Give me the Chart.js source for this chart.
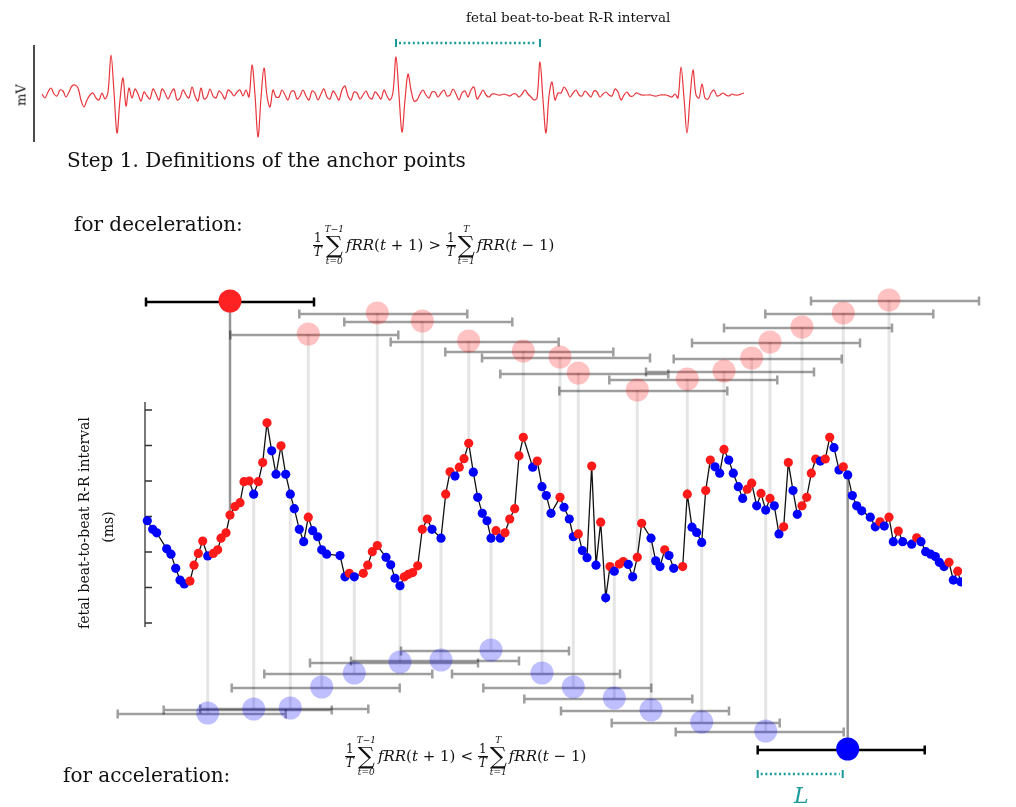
<!DOCTYPE html>
<html>
<head>
<meta charset="utf-8">
<script src="https://cdn.jsdelivr.net/npm/chart.js@4"></script>
<style>
  body { margin: 0; background: #fff; }
  #page { position: relative; width: 1016px; height: 807px; overflow: hidden; font-family: 'DejaVu Serif', serif; color: #111; }
  canvas { position: absolute; left: 0; top: 0; }
  .t { position: absolute; white-space: nowrap; }
  .rot { position: absolute; white-space: nowrap; transform: translate(-50%, -50%) rotate(-90deg); }
  .fm { position: absolute; display: flex; align-items: center; font-size: 15px; white-space: nowrap; }
  .fr { display: inline-flex; flex-direction: column; align-items: center; font-size: 12px; line-height: 13px; margin-right: 1px; }
  .fr span:first-child { border-bottom: 1px solid #111; padding: 0 1px; }
  .sm { display: inline-flex; flex-direction: column; align-items: center; margin: 0 2px 0 1px; }
  .sm .li { font-size: 9px; line-height: 10px; font-style: italic; }
  .sm .sg { font-size: 24px; line-height: 22px; }
  .op { margin: 0 5px; }
</style>
</head>
<body>
<div id="page">
  <canvas id="ecg" width="1016" height="807"></canvas>
  <canvas id="rr" width="1016" height="807"></canvas>

  <div class="t" style="left:466px;top:9px;font-size:13.5px;line-height:16px">fetal beat-to-beat R-R interval</div>
  <div class="rot" style="left:21px;top:95px;font-size:13px">mV</div>
  <div class="t" style="left:67px;top:149px;font-size:20px;line-height:22px">Step 1. Definitions of the anchor points</div>
  <div class="t" style="left:74px;top:213px;font-size:20px;line-height:22px">for deceleration:</div>
  <div class="t" style="left:63px;top:764px;font-size:20px;line-height:22px">for acceleration:</div>
  <div class="rot" style="left:84px;top:523px;font-size:14px">fetal beat-to-beat R-R interval</div>
  <div class="rot" style="left:108px;top:527px;font-size:14px">(ms)</div>
  <div class="t" style="left:794px;top:784px;font-size:22px;line-height:24px;font-style:italic;color:#1a9b9b">L</div>

  <div class="fm" style="left:313px;top:224px">
    <span class="fr"><span>1</span><i>T</i></span>
    <span class="sm"><span class="li">T−1</span><span class="sg">∑</span><span class="li">t=0</span></span>
    <span><i>fRR</i>(<i>t</i> + 1)</span><span class="op">&gt;</span>
    <span class="fr"><span>1</span><i>T</i></span>
    <span class="sm"><span class="li">T</span><span class="sg">∑</span><span class="li">t=1</span></span>
    <span><i>fRR</i>(<i>t</i> − 1)</span>
  </div>
  <div class="fm" style="left:345px;top:735px">
    <span class="fr"><span>1</span><i>T</i></span>
    <span class="sm"><span class="li">T−1</span><span class="sg">∑</span><span class="li">t=0</span></span>
    <span><i>fRR</i>(<i>t</i> + 1)</span><span class="op">&lt;</span>
    <span class="fr"><span>1</span><i>T</i></span>
    <span class="sm"><span class="li">T</span><span class="sg">∑</span><span class="li">t=1</span></span>
    <span><i>fRR</i>(<i>t</i> − 1)</span>
  </div>
</div>

<script>
// abdominal fetal ECG trace, µV, one sample per step
var ecgUv = [
  25,-75,75,175,25,-25,125,100,-50,75,225,250,175,-125,-300,-125,0,50,-75,-125,50,-100,75,
  1000,75,-950,-125,425,-275,175,
  -75,150,25,-150,75,-25,-100,150,25,-125,150,50,-100,50,150,-125,-75,125,0,-75,
  200,-25,-150,175,-100,-50,150,-25,-75,100,25,-100,125,75,-25,75,125,-25,125,-50,
  750,0,-1050,-75,675,-25,-300,125,-50,
  -50,125,0,-125,75,100,-100,-25,125,-25,-125,100,50,-125,25,150,-50,-100,100,0,
  -125,125,225,-25,-125,75,50,-100,0,100,-50,-100,75,0,-100,125,-25,
  -125,75,950,0,-925,-125,525,125,-150,
  -125,25,125,0,-75,75,75,-50,50,125,-25,0,150,25,-125,50,100,-50,125,200,
  -100,0,125,0,-50,25,25,0,0,25,0,-25,25,25,-50,25,125,25,-50,
  -125,-75,825,-125,-950,-25,325,-125,50,
  50,200,100,-50,50,125,0,-25,100,25,-50,100,75,-50,25,75,0,-25,150,75,
  -125,0,75,-25,-25,50,25,0,0,0,0,-25,-25,0,0,0,-25,-50,25,
  -75,700,-75,-950,-75,625,0,-75,275,-75,
  -100,50,125,-25,0,50,0,-25,25,0,0,25,50
];
var rrMarkSamples = [118, 166];

// fetal RR series: beat time (s) and RR interval (ms)
var rrTime = [
  0.23,0.77,1.17,2.17,2.6,3.07,3.5,3.93,4.5,4.9,
  5.33,5.77,6.27,6.83,7.27,7.6,8.1,8.5,9.0,9.5,
  9.9,10.43,10.87,11.33,11.77,12.2,12.67,13.1,13.6,14.07,
  14.53,14.93,15.43,15.87,16.33,16.77,17.27,17.67,18.17,19.5,
  20.0,20.43,20.93,21.83,22.27,22.73,23.23,24.1,24.57,25.0,
  25.5,25.93,26.33,26.77,27.27,27.73,28.23,28.7,29.6,30.07,
  30.5,31.0,31.43,31.9,32.37,32.83,33.27,33.73,34.2,34.6,
  35.1,35.53,36.0,36.47,36.97,37.4,37.83,38.77,39.23,39.7,
  40.13,40.6,41.5,41.9,42.43,42.83,43.33,43.73,44.2,44.67,
  45.1,45.57,46.07,46.5,46.93,47.43,47.83,48.33,48.77,49.23,
  49.67,50.6,51.07,51.5,51.97,52.4,52.87,53.77,54.23,54.7,
  55.17,55.67,56.07,56.53,57.0,57.47,57.9,58.37,58.83,59.33,
  59.77,60.23,60.67,61.17,61.6,62.07,62.5,62.93,63.4,63.87,
  64.33,64.8,65.23,65.7,66.17,66.63,67.07,67.53,68.03,68.47,
  68.9,69.4,69.83,70.27,70.73,71.17,71.67,72.53,73.03,73.5,
  73.93,74.4,74.83,75.33,75.77,76.67,77.17,77.6,78.07,78.57,
  79.03,79.43,79.9,80.4,80.83,81.27,81.57
];
var rrMs = [
  408.8,406.4,405.4,400.9,399.4,395.4,392.1,391.0,391.8,396.3,
  399.6,403.1,398.9,399.6,400.6,403.9,405.4,410.4,412.8,413.9,
  419.8,420.0,416.3,419.8,425.2,436.4,428.5,421.9,429.9,421.9,
  416.3,412.2,406.4,402.9,409.8,406.0,404.3,400.6,399.4,399.0,
  393.0,394.0,393.0,394.0,396.3,400.1,401.8,398.5,396.4,392.6,
  390.5,393.0,393.7,394.2,396.1,406.4,409.3,406.4,403.9,416.3,
  422.6,421.4,423.9,426.3,430.6,422.5,415.4,410.9,408.8,403.9,
  406.0,403.9,405.4,409.3,412.2,427.1,432.3,423.9,425.6,418.4,
  415.9,410.9,415.4,412.6,409.3,404.3,405.1,400.4,398.4,424.2,
  396.3,408.4,387.1,395.9,394.6,396.6,397.3,396.5,393.0,398.5,
  408.1,403.9,397.5,395.9,400.6,399.0,395.4,395.9,416.3,407.0,
  405.5,402.7,417.3,425.9,424.0,422.2,428.9,425.9,422.2,418.4,
  415.1,417.7,419.4,413.0,416.5,411.8,415.1,413.0,405.1,407.1,
  425.2,417.3,410.6,413.0,415.4,422.2,426.2,425.6,426.2,432.3,
  429.4,423.1,424.0,421.7,415.9,413.0,411.6,409.8,407.1,408.5,
  407.3,409.8,402.9,405.9,402.9,402.2,404.0,402.9,400.1,399.4,
  398.7,397.1,395.9,397.1,392.1,394.6,391.6
];
var rrTicks = [380, 390, 400, 410, 420, 430, 440];

// anchor beats (index into the series) and the row they are stacked on
var decelIdx  = [34, 46, 55, 64, 76, 82, 86, 99, 108, 116, 122, 126, 133, 142, 151];
var decelLane = [3.4, 1.3, 2.1, 4.1, 5.1, 5.7, 7.3, 9.0, 7.9, 7.1, 5.8, 4.2, 2.7, 1.3, 0.0];
var accelIdx  = [12, 22, 30, 37, 42, 50, 58, 69, 79, 85, 94, 101, 111, 125];
var accelLane = [41.3, 40.9, 40.8, 38.7, 37.3, 36.2, 36.0, 35.0, 37.3, 38.7, 39.8, 41.0, 42.2, 43.1];
var keyDecelIdx = 17, keyDecelLane = 0.1;
var keyAccelIdx = 143, keyAccelLane = 44.9;
// window length before / after the anchor (s)
var decelWindow = [7.8, 9.0];
var accelWindow = [9.0, 7.8];
var keyDecelWindow = [8.4, 8.4];
var keyAccelWindow = [9.0, 7.7];

var TEAL = '#1a9b9b';

function bracket(ctx, x0, x1, y) {
  ctx.strokeStyle = TEAL;
  ctx.lineWidth = 2.5;
  ctx.setLineDash([2, 2.6]);
  ctx.beginPath(); ctx.moveTo(x0 + 3, y); ctx.lineTo(x1 - 3, y); ctx.stroke();
  ctx.setLineDash([]);
  ctx.lineWidth = 2;
  ctx.beginPath();
  ctx.moveTo(x0, y - 4); ctx.lineTo(x0, y + 4);
  ctx.moveTo(x1, y - 4); ctx.lineTo(x1, y + 4);
  ctx.stroke();
}

// ---------- ECG strip ----------
var ecgPlugin = {
  id: 'ecgDeco',
  afterDraw: function(chart) {
    var ctx = chart.ctx, a = chart.chartArea, xs = chart.scales.x;
    ctx.save();
    ctx.strokeStyle = '#111';
    ctx.lineWidth = 1.5;
    ctx.beginPath();
    ctx.moveTo(a.left - 8, a.top - 2);
    ctx.lineTo(a.left - 8, a.bottom - 1);
    ctx.stroke();
    bracket(ctx, xs.getPixelForValue(rrMarkSamples[0]), xs.getPixelForValue(rrMarkSamples[1]), a.top - 4);
    ctx.restore();
  }
};

new Chart(document.getElementById('ecg'), {
  type: 'line',
  data: {
    labels: ecgUv.map(function(v, i) { return i; }),
    datasets: [{
      data: ecgUv,
      borderColor: '#e8363c',
      borderWidth: 1.2,
      pointRadius: 0,
      tension: 0.35
    }]
  },
  options: {
    responsive: false,
    animation: false,
    events: [],
    layout: { autoPadding: false, padding: { left: 42, right: 272, top: 47, bottom: 664 } },
    scales: {
      x: { display: false, offset: false },
      y: { display: false, min: -1200, max: 1200 }
    },
    plugins: { legend: { display: false }, tooltip: { enabled: false } }
  },
  plugins: [ecgPlugin]
});

// ---------- RR series with anchors ----------
var rrColors = rrMs.map(function(v, i) {
  return i > 0 && v > rrMs[i - 1] ? '#ff1a1a' : '#0000ff';
});

function hbar(ctx, x0, x1, y, color, width) {
  ctx.strokeStyle = color;
  ctx.lineWidth = width;
  ctx.beginPath();
  ctx.moveTo(x0, y); ctx.lineTo(x1, y);
  ctx.moveTo(x0, y - 4.5); ctx.lineTo(x0, y + 4.5);
  ctx.moveTo(x1, y - 4.5); ctx.lineTo(x1, y + 4.5);
  ctx.stroke();
}

var anchorPlugin = {
  id: 'anchors',
  beforeDatasetsDraw: function(chart) {
    var ctx = chart.ctx, xs = chart.scales.x, ys = chart.scales.y, ls = chart.scales.lane;
    ctx.save();
    function connector(k, lane, color, w) {
      var px = xs.getPixelForValue(rrTime[k]);
      ctx.strokeStyle = color;
      ctx.lineWidth = w;
      ctx.beginPath();
      ctx.moveTo(px, ls.getPixelForValue(lane));
      ctx.lineTo(px, ys.getPixelForValue(rrMs[k]));
      ctx.stroke();
    }
    decelIdx.forEach(function(k, i) { connector(k, decelLane[i], 'rgba(0,0,0,0.1)', 3); });
    accelIdx.forEach(function(k, i) { connector(k, accelLane[i], 'rgba(0,0,0,0.1)', 3); });
    connector(keyDecelIdx, keyDecelLane, 'rgba(0,0,0,0.42)', 2.5);
    connector(keyAccelIdx, keyAccelLane, 'rgba(0,0,0,0.42)', 2.5);

    function windowBar(k, lane, win, color, w) {
      var t = rrTime[k];
      hbar(ctx, xs.getPixelForValue(t - win[0]), xs.getPixelForValue(t + win[1]),
           ls.getPixelForValue(lane) + 1, color, w);
    }
    decelIdx.forEach(function(k, i) { windowBar(k, decelLane[i], decelWindow, 'rgba(0,0,0,0.38)', 2.5); });
    accelIdx.forEach(function(k, i) { windowBar(k, accelLane[i], accelWindow, 'rgba(0,0,0,0.38)', 2.5); });
    windowBar(keyDecelIdx, keyDecelLane, keyDecelWindow, '#000', 2.5);
    windowBar(keyAccelIdx, keyAccelLane, keyAccelWindow, '#000', 2.5);

    // L bracket under the key acceleration anchor
    var t = rrTime[keyAccelIdx];
    bracket(ctx, xs.getPixelForValue(t - keyAccelWindow[0]), xs.getPixelForValue(t - 0.5),
            ls.getPixelForValue(keyAccelLane + 2.5));

    // y axis with inward ticks
    var ax = xs.getPixelForValue(0);
    ctx.strokeStyle = '#333';
    ctx.lineWidth = 1.3;
    ctx.beginPath();
    ctx.moveTo(ax, ys.getPixelForValue(rrTicks[rrTicks.length - 1]) - 8);
    ctx.lineTo(ax, ys.getPixelForValue(rrTicks[0]) + 4);
    rrTicks.forEach(function(v) {
      var py = ys.getPixelForValue(v);
      ctx.moveTo(ax, py); ctx.lineTo(ax + 7, py);
    });
    ctx.stroke();
    ctx.restore();
  }
};

function anchorPoints(idx, lanes) {
  return idx.map(function(k, i) { return { x: rrTime[k], y: lanes[i] }; });
}

// the chart area is the whole page: 10 px per second, 3.55 px per ms, 10 px per lane
new Chart(document.getElementById('rr'), {
  type: 'line',
  data: {
    datasets: [{
      label: 'fRR',
      data: rrTime.map(function(t, i) { return { x: t, y: rrMs[i] }; }),
      borderColor: '#111',
      borderWidth: 1.3,
      pointRadius: 4.6,
      pointBorderWidth: 0,
      pointBackgroundColor: rrColors,
      clip: { left: false, top: false, right: -54, bottom: false },
      order: 0
    }, {
      type: 'scatter',
      label: 'deceleration anchors',
      data: anchorPoints(decelIdx, decelLane),
      yAxisID: 'lane',
      pointRadius: 11.5,
      pointBorderWidth: 0,
      backgroundColor: 'rgba(255,0,0,0.24)',
      order: 2
    }, {
      type: 'scatter',
      label: 'acceleration anchors',
      data: anchorPoints(accelIdx, accelLane),
      yAxisID: 'lane',
      pointRadius: 11.5,
      pointBorderWidth: 0,
      backgroundColor: 'rgba(0,0,255,0.25)',
      order: 2
    }, {
      type: 'scatter',
      label: 'key anchors',
      data: [{ x: rrTime[keyDecelIdx], y: keyDecelLane }, { x: rrTime[keyAccelIdx], y: keyAccelLane }],
      yAxisID: 'lane',
      pointRadius: 11.5,
      pointBorderWidth: 0,
      backgroundColor: ['#ff2222', '#0000ff'],
      order: 1
    }]
  },
  options: {
    responsive: false,
    animation: false,
    events: [],
    layout: { autoPadding: false, padding: 0 },
    scales: {
      x: { type: 'linear', display: false, min: -14.5, max: 87.1 },
      y: { display: false, min: 328.169, max: 555.493 },
      lane: { axis: 'y', display: false, min: -30, max: 50.7, reverse: true }
    },
    plugins: { legend: { display: false }, tooltip: { enabled: false } }
  },
  plugins: [anchorPlugin]
});
</script>
</body>
</html>
